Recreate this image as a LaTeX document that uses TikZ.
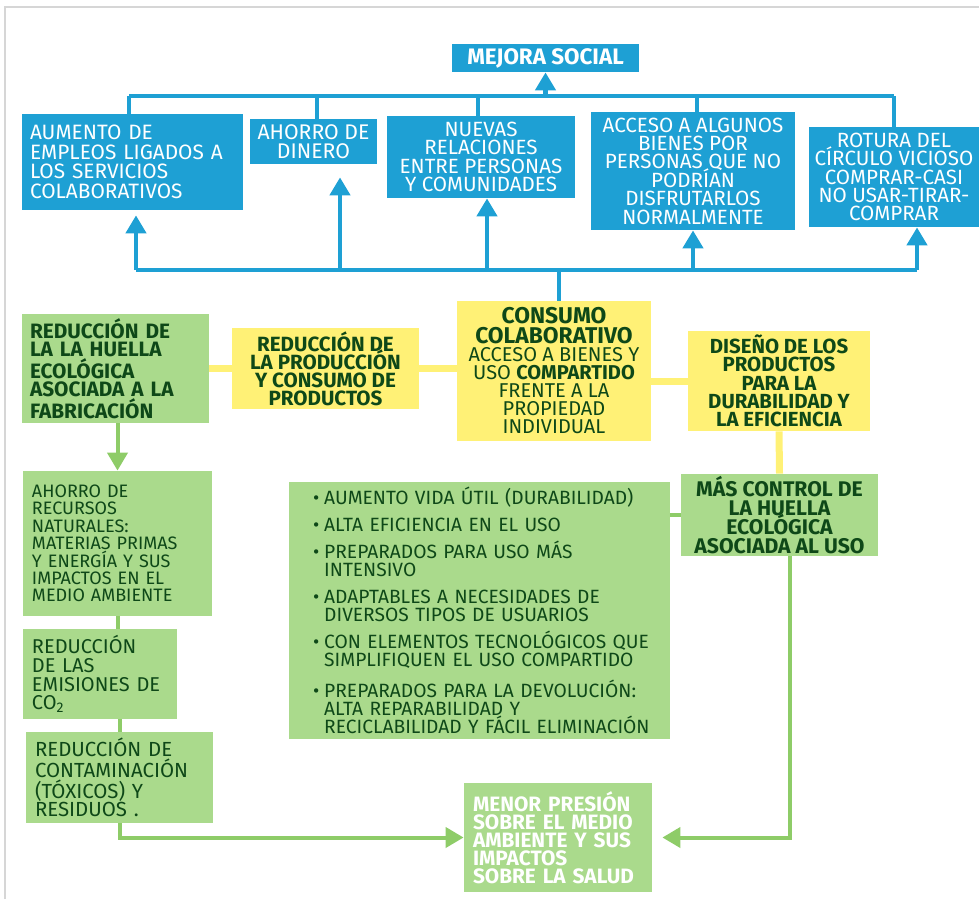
\documentclass[tikz,border=0pt]{standalone}
\usepackage{fontspec}
\setmainfont{Fira Sans}
\usetikzlibrary{arrows.meta}
\setlength{\lineskiplimit}{-20pt}

\definecolor{azul}{RGB}{30,160,212}
\definecolor{amarillo}{RGB}{255,241,118}
\definecolor{verdeclaro}{RGB}{170,218,140}
\definecolor{verdelinea}{RGB}{142,204,104}
\definecolor{verdeoscuro}{RGB}{14,72,24}
\definecolor{marco}{RGB}{214,214,214}

\begin{document}
\begin{tikzpicture}[x=0.5pt,y=-0.5pt,
  >={Triangle[width=10pt,length=9pt]},
  caja/.style={rectangle,inner sep=0pt,align=center},
  cajaazul/.style={caja,fill=azul,text=white,font=\fontsize{10.3}{9.2}\selectfont},
  cajaamarilla/.style={caja,fill=amarillo,text=verdeoscuro,font=\bfseries\fontsize{10.3}{9}\selectfont},
  cajaverde/.style={caja,fill=verdeclaro,text=verdeoscuro,font=\fontsize{9}{8.7}\selectfont},
  lineaazul/.style={draw=azul,line width=2.2pt},
  lineaverde/.style={draw=verdelinea,line width=2pt},
  lineaamarilla/.style={draw=amarillo,line width=3.5pt}
]
  \useasboundingbox (0,0) rectangle (979,899);
  \draw[marco,line width=1pt] (5,899) -- (5,7) -- (979,7);

  % mejora social
  \node[cajaazul,font=\bfseries\fontsize{11.2}{9.6}\selectfont,
        minimum width=93.5pt,minimum height=14pt] (social) at (545.5,58) {MEJORA SOCIAL};
  \node[cajaazul,font=\fontsize{10.4}{9.8}\selectfont,align=left,text width=102.5pt,
        inner xsep=4pt,minimum height=48pt] (empleo) at (132.5,162)
    {AUMENTO DE\\EMPLEOS LIGADOS A\\LOS SERVICIOS\\COLABORATIVOS};
  \node[cajaazul,font=\fontsize{10.6}{9.8}\selectfont,
        minimum width=63.5pt,minimum height=22.5pt] (ahorro) at (313.5,141.5)
    {AHORRO DE\\DINERO};
  \node[cajaazul,minimum width=94pt,minimum height=41pt] (relaciones) at (481,157)
    {NUEVAS\\RELACIONES\\ENTRE PERSONAS\\Y COMUNIDADES};
  \node[cajaazul,minimum width=102pt,minimum height=59pt] (acceso) at (693,171)
    {ACCESO A ALGUNOS\\BIENES POR\\PERSONAS QUE NO\\PODRÍAN\\DISFRUTARLOS\\NORMALMENTE};
  \node[cajaazul,minimum width=85pt,minimum height=50pt] (rotura) at (894,177)
    {ROTURA DEL\\CÍRCULO VICIOSO\\COMPRAR-CASI\\NO USAR-TIRAR-\\COMPRAR};

  \coordinate (bussup) at (0,96);
  \coordinate (businf) at (0,270);
  \draw[lineaazul] ([xshift=-1.75pt]empleo.north |- bussup) -- (rotura.north |- bussup);
  \foreach \n/\dx in {empleo/-1.75pt,ahorro/1.75pt,relaciones/-1.5pt,acceso/2pt,rotura/0pt}
    \draw[lineaazul] ([xshift=\dx]\n.north) -- ([xshift=\dx]\n.north |- bussup);
  \draw[lineaazul,->] (social.south |- bussup) -- (social.south);

  \draw[lineaazul] ([xshift=1.75pt]empleo.south |- businf) -- ([xshift=11.5pt]rotura.south |- businf);
  \foreach \n/\dx/\s in {empleo/1.75pt/2.5pt,ahorro/13.25pt/6.5pt,relaciones/3pt/0pt,acceso/0pt/0pt,rotura/11.5pt/0pt}
    \draw[lineaazul,->,shorten >=\s] ([xshift=\dx]\n.south |- businf) -- ([xshift=\dx]\n.south);

  % consumo colaborativo
  \node[cajaamarilla,font=\fontsize{10}{9}\selectfont,
        minimum width=97pt,minimum height=70pt] (consumo) at (554,371)
    {{\bfseries\fontsize{11.4}{9}\selectfont CONSUMO}\\[1pt]
     {\bfseries\fontsize{11.4}{9}\selectfont COLABORATIVO}\\
     ACCESO A BIENES Y\\USO \textbf{COMPARTIDO}\\FRENTE A LA\\PROPIEDAD\\INDIVIDUAL};
  \node[cajaamarilla,minimum width=93.5pt,minimum height=40.5pt] (produccion) at (325.5,368.5)
    {REDUCCIÓN DE\\LA PRODUCCIÓN\\Y CONSUMO DE\\PRODUCTOS};
  \node[cajaamarilla,font=\bfseries\fontsize{10.2}{9.2}\selectfont,
        minimum width=91pt,minimum height=50pt] (diseno) at (779,381)
    {DISEÑO DE LOS\\PRODUCTOS\\PARA LA\\DURABILIDAD Y\\LA EFICIENCIA};
  \node[cajaverde,font=\bfseries\fontsize{10.4}{9}\selectfont,align=left,text width=85.5pt,
        inner xsep=4pt,minimum height=54.5pt] (huella) at (115.5,368.5)
    {REDUCCIÓN DE\\LA LA HUELLA\\ECOLÓGICA\\ASOCIADA A LA\\FABRICACIÓN};
  \node[cajaverde,font=\bfseries\fontsize{10.6}{9.4}\selectfont,
        minimum width=98.5pt,minimum height=41pt] (control) at (779.5,515)
    {MÁS CONTROL DE\\LA HUELLA\\ECOLÓGICA\\ASOCIADA AL USO};

  \node[cajaverde,font=\fontsize{9.6}{9}\selectfont,align=left,text width=172.5pt,
        inner xsep=9pt,minimum height=128.5pt] (lista) at (479.5,610.5)
    {\hspace*{3pt}•\hspace{2.5pt}AUMENTO VIDA ÚTIL (DURABILIDAD)\\[4.5pt]
     \hspace*{3pt}•\hspace{2.5pt}ALTA EFICIENCIA EN EL USO\\[4.5pt]
     \hspace*{3pt}•\hspace{2.5pt}PREPARADOS PARA USO MÁS\\
     \hspace*{3pt}\phantom{•}\hspace{2.5pt}INTENSIVO\\[4.5pt]
     \hspace*{3pt}•\hspace{2.5pt}ADAPTABLES A NECESIDADES DE\\
     \hspace*{3pt}\phantom{•}\hspace{2.5pt}DIVERSOS TIPOS DE USUARIOS\\[4.5pt]
     \hspace*{3pt}•\hspace{2.5pt}CON ELEMENTOS TECNOLÓGICOS QUE\\
     \hspace*{3pt}\phantom{•}\hspace{2.5pt}SIMPLIFIQUEN EL USO COMPARTIDO\\[4.5pt]
     \hspace*{3pt}•\hspace{2.5pt}PREPARADOS PARA LA DEVOLUCIÓN:\\
     \hspace*{3pt}\phantom{•}\hspace{2.5pt}ALTA REPARABILIDAD Y\\
     \hspace*{3pt}\phantom{•}\hspace{2.5pt}RECICLABILIDAD Y FÁCIL ELIMINACIÓN};

  \node[cajaverde,align=left,text width=85.5pt,inner xsep=4.5pt,
        minimum height=72.5pt] (recursos) at (117.5,543.5)
    {AHORRO DE\\RECURSOS\\NATURALES:\\MATERIAS PRIMAS\\Y ENERGÍA Y SUS\\IMPACTOS EN EL\\MEDIO AMBIENTE};
  \node[cajaverde,font=\fontsize{10}{9.4}\selectfont,align=left,text width=68pt,inner xsep=4.5pt,
        minimum height=45pt] (emisiones) at (100,674)
    {REDUCCIÓN\\DE LAS\\EMISIONES DE\\CO\textsubscript{2}};
  \node[cajaverde,font=\fontsize{10.2}{9.4}\selectfont,align=left,text width=84.5pt,inner xsep=4.5pt,
        minimum height=45.5pt] (contaminacion) at (119.5,777.5)
    {REDUCCIÓN DE\\CONTAMINACIÓN\\(TÓXICOS) Y\\RESIDUOS .};
  \node[cajaverde,text=white,font=\bfseries\fontsize{10.4}{9}\selectfont,align=left,
        text width=85pt,inner xsep=4.5pt,minimum height=54.5pt] (menor) at (558,837.5)
    {MENOR PRESIÓN\\SOBRE EL MEDIO\\AMBIENTE Y SUS\\IMPACTOS\\SOBRE LA SALUD};

  \draw[lineaazul] ([xshift=2.5pt]consumo.north) -- ([xshift=2.5pt]consumo.north |- businf);
  \draw[lineaamarilla] (huella.east) -- (produccion.west);
  \draw[lineaamarilla] (produccion.east) -- (produccion.east -| consumo.west);
  \draw[lineaamarilla] (consumo.east |- diseno.west) -- (diseno.west);
  \draw[lineaamarilla] (diseno.south) -- (control.north);
  \draw[lineaverde] (lista.east |- control.west) -- (control.west);
  \draw[lineaverde,->] (recursos.north |- huella.south) -- (recursos.north);
  \draw[lineaverde] (recursos.south) -- (recursos.south |- emisiones.north);
  \draw[lineaverde] (contaminacion.north |- emisiones.south) -- (contaminacion.north);
  \draw[lineaverde,->] (contaminacion.south) |- (menor.west);
  \draw[lineaverde,->,shorten >=5pt] ([xshift=5pt]control.south) |- (menor.east);
\end{tikzpicture}
\end{document}
